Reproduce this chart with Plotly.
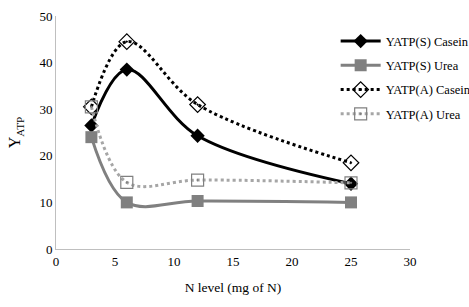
import plotly.graph_objects as go

n_level = [3, 6, 12, 25]
s_casein = [26.5, 38.5, 24.3, 14.0]
s_urea = [24.0, 10.0, 10.3, 10.0]
a_casein = [30.5, 44.5, 31.0, 18.5]
a_urea = [30.5, 14.3, 14.8, 14.2]

FONT = "Liberation Serif, DejaVu Serif, serif"
GRAY = "#808080"

fig = go.Figure()
fig.add_trace(go.Scatter(x=n_level, y=s_casein, name="YATP(S) Casein", mode="lines+markers",
                         legendgroup="a",
                         line=dict(color="black", width=3, shape="spline"),
                         marker=dict(symbol="diamond", size=11, color="black")))
fig.add_trace(go.Scatter(x=n_level, y=s_urea, name="YATP(S) Urea", mode="lines+markers",
                         legendgroup="b",
                         line=dict(color=GRAY, width=3, shape="spline"),
                         marker=dict(symbol="square", size=12, color=GRAY)))
fig.add_trace(go.Scatter(x=n_level, y=a_casein, name="YATP(A) Casein", mode="lines+markers",
                         legendgroup="c",
                         line=dict(color="black", width=3, dash="dot", shape="spline"),
                         marker=dict(symbol="diamond-open-dot", size=12, color="black",
                                     line=dict(width=1.2, color="black"))))
fig.add_trace(go.Scatter(x=n_level, y=a_urea, name="YATP(A) Urea", mode="lines+markers",
                         legendgroup="d",
                         line=dict(color="#a6a6a6", width=3, dash="dot", shape="spline"),
                         marker=dict(symbol="square-open-dot", size=12, color=GRAY,
                                     line=dict(width=1.2, color=GRAY))))

fig.update_layout(
    width=469, height=307,
    margin=dict(l=56, r=59, t=16, b=58, autoexpand=False),
    paper_bgcolor="white", plot_bgcolor="white",
    font=dict(family=FONT, size=13, color="black"),
    showlegend=True,
    legend=dict(x=0.79, y=0.955, xanchor="left", yanchor="top",
                bgcolor="rgba(0,0,0,0)", font=dict(family=FONT, size=12.5),
                tracegroupgap=5, itemwidth=40),
    xaxis=dict(range=[0, 30], dtick=5, showgrid=False, zeroline=False,
               showline=True, linecolor="#bfbfbf", linewidth=1, ticks="",
               title=dict(text="N level (mg of N)", font=dict(family=FONT, size=13.5), standoff=14),
               tickfont=dict(family=FONT, size=13)),
    yaxis=dict(range=[0, 50], dtick=10, showgrid=False, zeroline=False,
               showline=True, linecolor="#bfbfbf", linewidth=1, ticks="",
               title=dict(text="Y<sub>ATP</sub>", font=dict(family=FONT, size=16), standoff=14),
               tickfont=dict(family=FONT, size=13)),
)

fig.write_html("out.html")
